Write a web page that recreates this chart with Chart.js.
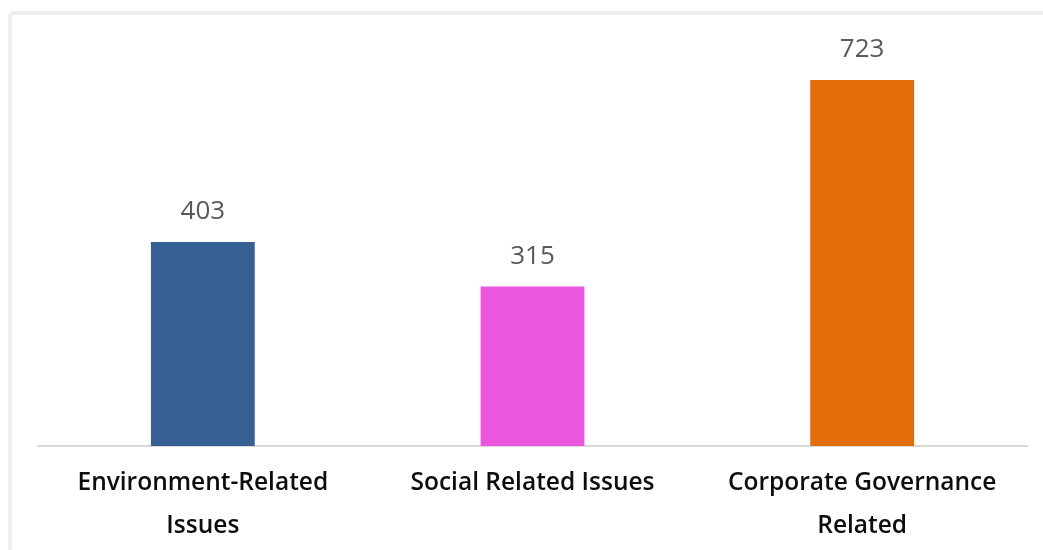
<!DOCTYPE html>
<html>
<head>
<meta charset="utf-8">
<script src="https://cdn.jsdelivr.net/npm/chart.js@4/dist/chart.umd.min.js"></script>
<style>
    body { margin: 0; background: #fff; overflow: hidden; }
    .frame {
        position: absolute; left: 8px; top: 11px; width: 1100px; height: 600px;
        border: 4px solid #efefef; border-radius: 5px;
    }
    #barChart { position: absolute; left: 0; top: 0; }
</style>
</head>
<body>
<div class="frame"></div>
<canvas id="barChart" width="1043" height="550"></canvas>
<script>
const categories = [["Environment-Related", "Issues"], "Social Related Issues", ["Corporate Governance", "Related"]];
const counts = [403, 315, 723];
const barColors = ["#366092", "#EA56DD", "#E36C0A"];

// etiquetas de valor encima de cada barra
const valueLabels = {
    id: "valueLabels",
    afterDatasetsDraw(chart) {
        const ctx = chart.ctx;
        const meta = chart.getDatasetMeta(0);
        ctx.save();
        ctx.font = "26px 'Open Sans'";
        ctx.fillStyle = "#595959";
        ctx.textAlign = "center";
        ctx.textBaseline = "alphabetic";
        meta.data.forEach((bar, i) => {
            ctx.fillText(String(counts[i]), bar.x, bar.y - 23);
        });
        ctx.restore();
    }
};

document.addEventListener("DOMContentLoaded", function() {
    const ctx = document.getElementById("barChart").getContext("2d");
    new Chart(ctx, {
        type: "bar",
        data: {
            labels: categories,
            datasets: [{
                data: counts,
                backgroundColor: barColors,
                categoryPercentage: 1,
                barPercentage: 0.315
            }]
        },
        options: {
            responsive: false,
            animation: false,
            layout: { padding: { top: 41, left: 38, right: 16, bottom: 0 } },
            plugins: { legend: { display: false }, tooltip: { enabled: false } },
            scales: {
                y: { display: false, min: 0, max: 800 },
                x: {
                    grid: { display: false, drawTicks: false },
                    border: { display: true, color: "#d9d9d9", width: 2 },
                    ticks: {
                        color: "#0d0d0d",
                        padding: 16,
                        maxRotation: 0,
                        autoSkip: false,
                        font: { family: "'Open Sans'", size: 24.5, weight: 600, lineHeight: "43px" }
                    },
                    afterFit(scale) { scale.height = 104; }
                }
            }
        },
        plugins: [valueLabels]
    });
});
</script>
</body>
</html>
